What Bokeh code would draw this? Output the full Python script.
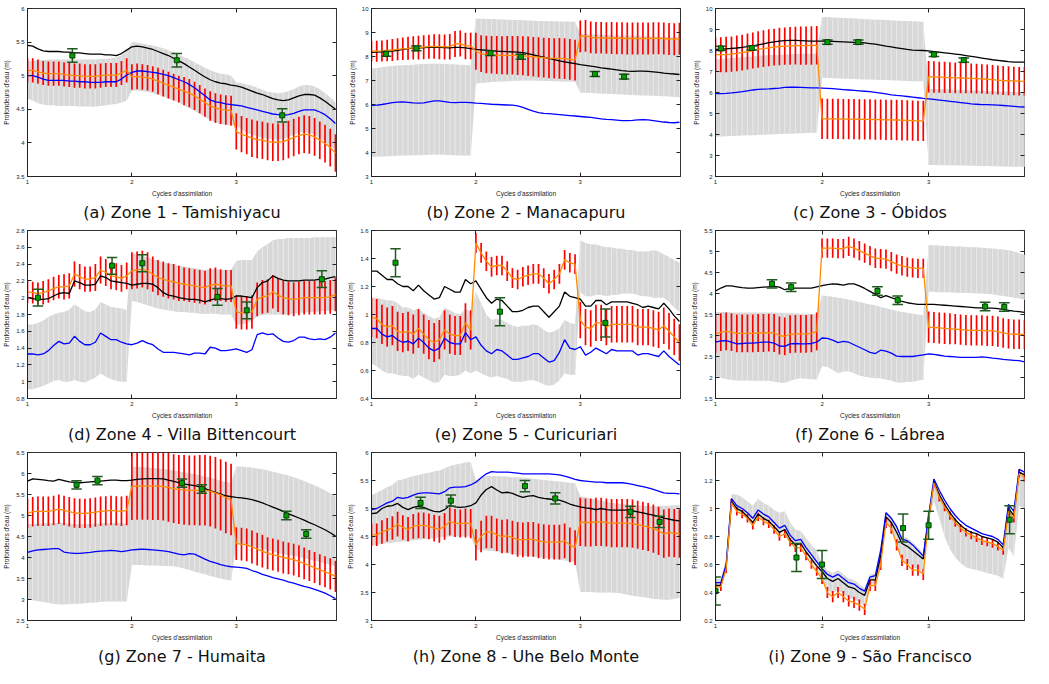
from bokeh.plotting import figure
from bokeh.layouts import gridplot
from bokeh.models import (ColumnDataSource, FixedTicker, CustomJSTickFormatter,
                          LinearAxis, Title, Range1d)
from bokeh.embed import file_html
from bokeh.resources import INLINE

# assimilation sample positions (20 per cycle, cycles 1..3)
CYCLE_X = [round(1 + 0.05 * i, 2) for i in range(60)]

CAPTIONS = ["(a) Zone 1 - Tamishiyacu", "(b) Zone 2 - Manacapuru", "(c) Zone 3 - Óbidos",
            "(d) Zone 4 - Villa Bittencourt", "(e) Zone 5 - Curicuriari", "(f) Zone 6 - Lábrea",
            "(g) Zone 7 - Humaita", "(h) Zone 8 - Uhe Belo Monte", "(i) Zone 9 - São Francisco"]
X_LABEL = "Cycles d'assimilation"
Y_LABEL = "Profondeurs d'eau (m)"
X_TICKS = [1, 2, 3]

# ---------------- Zone 1 ----------------
A_YLIM = (3.5, 6.0)
A_YTICKS = [3.5, 4, 4.5, 5, 5.5, 6]
A_GHI = [5.22,5.22,5.23,5.23,5.24,5.24,5.24,5.24,5.24,5.24,5.24,5.24,5.24,5.24,5.25,5.25,5.26,5.27,5.30,5.36,
         5.50,5.49,5.48,5.46,5.45,5.43,5.41,5.38,5.35,5.31,5.28,5.24,5.20,5.16,5.12,5.08,5.05,5.03,5.02,5.00,
         4.90,4.89,4.87,4.85,4.82,4.79,4.76,4.75,4.74,4.75,4.77,4.80,4.84,4.86,4.86,4.84,4.80,4.74,4.68,4.60]
A_GLO = [4.66,4.63,4.59,4.57,4.56,4.56,4.55,4.55,4.55,4.55,4.54,4.54,4.54,4.54,4.55,4.56,4.57,4.58,4.60,4.63,
         4.78,4.78,4.77,4.76,4.74,4.72,4.69,4.66,4.63,4.60,4.56,4.52,4.48,4.43,4.38,4.34,4.30,4.28,4.27,4.26,
         4.26,4.20,4.15,4.12,4.10,4.08,4.06,4.05,4.05,4.06,4.09,4.12,4.15,4.16,4.15,4.12,4.07,4.01,3.95,3.90]
A_OR = [5.08,5.08,5.06,5.04,5.03,5.03,5.03,5.02,5.01,5.00,5.00,4.99,4.99,4.99,5.00,5.01,5.01,5.01,5.04,5.08,
        4.98,4.99,4.98,4.97,4.95,4.92,4.89,4.86,4.83,4.80,4.77,4.74,4.70,4.65,4.60,4.55,4.52,4.50,4.49,4.48,
        4.17,4.13,4.10,4.07,4.05,4.04,4.02,4.01,4.01,4.02,4.05,4.08,4.11,4.13,4.12,4.09,4.04,3.99,3.93,3.85]
A_HW = [0.18,0.18,0.18,0.18,0.18,0.18,0.18,0.18,0.18,0.18,0.18,0.18,0.18,0.18,0.18,0.18,0.18,0.18,0.18,0.18,
        0.19,0.19,0.19,0.19,0.19,0.20,0.20,0.20,0.20,0.20,0.21,0.21,0.21,0.21,0.21,0.22,0.22,0.22,0.22,0.22,
        0.27,0.27,0.27,0.28,0.28,0.28,0.28,0.28,0.28,0.28,0.28,0.28,0.28,0.28,0.28,0.28,0.28,0.28,0.28,0.28]
A_BK = [5.45,5.44,5.40,5.37,5.36,5.36,5.36,5.35,5.35,5.34,5.34,5.33,5.32,5.32,5.32,5.31,5.31,5.30,5.33,5.38,
        5.43,5.44,5.43,5.41,5.39,5.36,5.33,5.30,5.26,5.22,5.18,5.13,5.08,5.03,4.98,4.94,4.91,4.89,4.88,4.86,
        4.85,4.83,4.80,4.77,4.74,4.72,4.69,4.66,4.64,4.63,4.64,4.67,4.70,4.72,4.72,4.71,4.67,4.62,4.56,4.50]
A_BL = [5.00,5.00,4.98,4.95,4.93,4.93,4.93,4.93,4.92,4.92,4.91,4.91,4.90,4.90,4.90,4.91,4.91,4.91,4.95,5.01,
        5.05,5.07,5.07,5.06,5.05,5.04,5.02,5.00,4.97,4.94,4.91,4.87,4.82,4.76,4.70,4.64,4.61,4.60,4.58,4.57,
        4.56,4.55,4.53,4.51,4.49,4.47,4.45,4.43,4.42,4.41,4.42,4.44,4.47,4.49,4.49,4.49,4.46,4.42,4.36,4.29]
A_OX = [1.43, 2.43, 3.44]
A_OY = [5.30, 5.23, 4.41]
A_OE = [0.10, 0.10, 0.10]

# ---------------- Zone 2 ----------------
B_YLIM = (3, 10)
B_YTICKS = [3, 4, 5, 6, 7, 8, 9, 10]
B_GHI = [7.50,7.52,7.55,7.58,7.60,7.62,7.64,7.65,7.66,7.68,7.69,7.70,7.70,7.70,7.69,7.68,7.67,7.66,7.65,7.64,
         9.57,9.57,9.56,9.56,9.55,9.54,9.53,9.52,9.52,9.51,9.50,9.49,9.48,9.48,9.47,9.47,9.46,9.46,9.45,9.45,
         8.95,8.94,8.93,8.92,8.91,8.90,8.89,8.88,8.87,8.86,8.85,8.85,8.84,8.84,8.83,8.82,8.82,8.81,8.80,8.80]
B_GLO = [3.81,3.82,3.83,3.84,3.85,3.86,3.87,3.88,3.89,3.89,3.90,3.91,3.92,3.92,3.91,3.90,3.89,3.88,3.88,3.88,
         6.88,6.90,6.92,6.94,6.95,6.96,6.97,6.98,6.99,7.00,7.00,7.00,6.99,6.98,6.98,6.97,6.96,6.96,6.95,6.95,
         6.50,6.49,6.48,6.47,6.46,6.45,6.44,6.43,6.42,6.41,6.40,6.39,6.38,6.37,6.36,6.35,6.34,6.33,6.31,6.30]
B_OR = [8.22,8.22,8.23,8.25,8.27,8.30,8.32,8.34,8.36,8.37,8.39,8.41,8.42,8.41,8.40,8.41,8.52,8.54,8.44,8.44,
        8.22,8.12,8.08,8.07,8.06,8.05,8.05,8.05,8.04,8.03,8.01,7.99,7.97,7.95,7.93,7.92,7.92,7.91,7.88,7.85,
        8.84,8.86,8.80,8.78,8.78,8.77,8.77,8.76,8.76,8.75,8.75,8.75,8.75,8.75,8.76,8.76,8.75,8.73,8.72,8.74]
B_HW = [0.43,0.44,0.44,0.45,0.46,0.46,0.47,0.48,0.48,0.49,0.50,0.50,0.51,0.52,0.52,0.53,0.54,0.54,0.55,0.55,
        0.77,0.77,0.78,0.78,0.79,0.79,0.80,0.80,0.81,0.81,0.82,0.82,0.83,0.83,0.84,0.84,0.85,0.85,0.85,0.85,
        0.66,0.66,0.66,0.66,0.66,0.66,0.67,0.67,0.67,0.67,0.67,0.67,0.67,0.67,0.67,0.67,0.67,0.67,0.67,0.67]
B_BK = [8.17,8.18,8.19,8.20,8.22,8.26,8.30,8.33,8.35,8.35,8.37,8.38,8.38,8.38,8.37,8.36,8.38,8.38,8.36,8.33,
        8.30,8.28,8.26,8.24,8.22,8.21,8.20,8.19,8.18,8.16,8.12,8.07,8.02,7.97,7.92,7.87,7.82,7.78,7.74,7.70,
        7.66,7.63,7.60,7.57,7.53,7.50,7.47,7.44,7.41,7.39,7.38,7.39,7.39,7.38,7.36,7.34,7.31,7.29,7.27,7.25]
B_BL = [5.96,5.97,6.00,6.04,6.08,6.10,6.11,6.09,6.07,6.06,6.07,6.11,6.15,6.15,6.12,6.09,6.08,6.09,6.09,6.08,
        6.06,6.05,6.03,6.01,6.00,5.99,5.98,5.97,5.94,5.88,5.80,5.72,5.66,5.63,5.62,5.60,5.58,5.56,5.54,5.52,
        5.50,5.48,5.46,5.43,5.40,5.38,5.37,5.35,5.33,5.33,5.34,5.36,5.37,5.36,5.33,5.30,5.27,5.25,5.24,5.26]
B_OX = [1.14, 1.43, 2.14, 2.43, 3.14, 3.42]
B_OY = [8.11, 8.34, 8.14, 7.99, 7.27, 7.16]
B_OE = [0.10, 0.10, 0.10, 0.10, 0.10, 0.10]

# ---------------- Zone 3 ----------------
C_YLIM = (2, 10)
C_YTICKS = [2, 3, 4, 5, 6, 7, 8, 9, 10]
C_GHI = [7.58,7.60,7.62,7.64,7.66,7.68,7.70,7.72,7.74,7.76,7.78,7.79,7.80,7.81,7.82,7.83,7.84,7.84,7.85,7.85,
         9.60,9.59,9.57,9.56,9.55,9.53,9.52,9.51,9.50,9.48,9.47,9.46,9.45,9.44,9.42,9.41,9.40,9.39,9.38,9.37,
         6.18,6.17,6.16,6.15,6.14,6.13,6.12,6.11,6.10,6.09,6.08,6.07,6.06,6.05,6.04,6.03,6.02,6.01,6.00,6.00]
C_GLO = [3.90,3.91,3.92,3.93,3.94,3.95,3.96,3.97,3.98,3.99,4.00,4.01,4.02,4.03,4.04,4.05,4.06,4.07,4.08,4.08,
         6.70,6.69,6.68,6.67,6.66,6.65,6.64,6.63,6.62,6.62,6.61,6.60,6.59,6.58,6.57,6.56,6.55,6.54,6.54,6.53,
         2.55,2.55,2.54,2.54,2.53,2.53,2.52,2.52,2.51,2.51,2.50,2.50,2.49,2.49,2.48,2.48,2.47,2.47,2.46,2.46]
C_OR = [7.80,7.80,7.81,7.83,7.86,7.90,7.95,8.00,8.05,8.09,8.13,8.16,8.19,8.21,8.22,8.23,8.23,8.23,8.24,8.25,
        4.75,4.74,4.74,4.74,4.73,4.73,4.73,4.72,4.72,4.72,4.71,4.71,4.70,4.70,4.69,4.68,4.67,4.66,4.65,4.65,
        6.75,6.74,6.73,6.72,6.71,6.70,6.69,6.68,6.67,6.66,6.65,6.63,6.61,6.59,6.57,6.56,6.55,6.54,6.53,6.53]
C_HW = [0.83,0.83,0.84,0.84,0.85,0.85,0.86,0.86,0.87,0.87,0.88,0.88,0.89,0.89,0.90,0.90,0.91,0.91,0.92,0.92,
        0.96,0.96,0.96,0.96,0.96,0.96,0.96,0.96,0.96,0.96,0.96,0.96,0.96,0.96,0.96,0.96,0.96,0.96,0.96,0.96,
        0.75,0.75,0.74,0.74,0.73,0.73,0.72,0.72,0.71,0.71,0.70,0.70,0.70,0.69,0.69,0.69,0.68,0.68,0.68,0.68]
C_BK = [8.05,8.06,8.08,8.10,8.12,8.15,8.18,8.22,8.27,8.32,8.37,8.41,8.45,8.47,8.48,8.48,8.47,8.46,8.45,8.45,
        8.45,8.44,8.43,8.42,8.41,8.40,8.39,8.38,8.36,8.33,8.30,8.26,8.21,8.17,8.13,8.09,8.05,8.02,8.01,8.00,
        7.98,7.95,7.92,7.89,7.86,7.83,7.80,7.76,7.72,7.68,7.64,7.60,7.56,7.53,7.50,7.47,7.45,7.45,7.45,7.45]
C_BL = [5.95,5.95,5.96,5.98,6.01,6.04,6.08,6.12,6.15,6.16,6.17,6.19,6.21,6.24,6.26,6.25,6.24,6.23,6.22,6.22,
        6.21,6.20,6.18,6.16,6.14,6.12,6.10,6.08,6.06,6.04,6.01,5.97,5.93,5.89,5.86,5.84,5.81,5.78,5.75,5.72,
        5.70,5.67,5.64,5.61,5.58,5.55,5.52,5.49,5.46,5.44,5.42,5.42,5.41,5.40,5.38,5.36,5.34,5.32,5.31,5.31]
C_OX = [1.05, 1.34, 2.05, 2.34, 3.05, 3.33]
C_OY = [8.10, 8.12, 8.40, 8.40, 7.81, 7.54]
C_OE = [0.10, 0.10, 0.10, 0.10, 0.10, 0.10]

# ---------------- Zone 4 ----------------
D_YLIM = (0.8, 2.8)
D_YTICKS = [0.8, 1.0, 1.2, 1.4, 1.6, 1.8, 2.0, 2.2, 2.4, 2.6, 2.8]
D_GHI = [1.68,1.68,1.70,1.73,1.77,1.80,1.82,1.83,1.86,1.92,1.88,1.84,1.83,1.86,1.95,1.92,1.89,1.88,1.87,1.85,
         2.53,2.52,2.50,2.48,2.46,2.44,2.42,2.41,2.40,2.38,2.37,2.36,2.35,2.34,2.33,2.34,2.34,2.33,2.33,2.33,
         2.44,2.45,2.45,2.45,2.55,2.60,2.64,2.68,2.70,2.70,2.71,2.71,2.71,2.71,2.71,2.72,2.72,2.72,2.72,2.72]
D_GLO = [0.91,0.91,0.93,0.95,0.98,1.01,1.02,1.00,1.00,1.02,1.00,0.99,1.02,1.05,1.10,1.06,1.03,1.01,1.00,1.00,
         1.96,1.95,1.93,1.91,1.89,1.87,1.86,1.85,1.84,1.83,1.83,1.82,1.82,1.81,1.81,1.81,1.81,1.80,1.80,1.80,
         1.68,1.68,1.70,1.72,1.78,1.79,1.80,1.80,1.80,1.80,1.80,1.81,1.82,1.82,1.83,1.83,1.84,1.84,1.85,1.85]
D_OR = [2.07,2.06,2.05,2.06,2.08,2.11,2.13,2.13,2.14,2.28,2.25,2.22,2.22,2.24,2.33,2.30,2.26,2.25,2.23,2.26,
        2.32,2.33,2.34,2.32,2.28,2.24,2.22,2.20,2.19,2.17,2.16,2.15,2.14,2.13,2.12,2.15,2.16,2.15,2.14,2.14,
        1.83,1.82,1.82,1.83,1.98,2.01,2.02,2.07,2.03,2.00,1.99,1.98,1.99,2.00,2.00,2.00,2.00,2.00,2.01,2.04]
D_HW = [0.13,0.13,0.13,0.14,0.14,0.14,0.14,0.15,0.15,0.15,0.15,0.15,0.15,0.16,0.16,0.16,0.16,0.16,0.16,0.16,
        0.22,0.22,0.22,0.22,0.21,0.21,0.21,0.21,0.21,0.21,0.20,0.20,0.20,0.20,0.20,0.20,0.20,0.19,0.19,0.19,
        0.20,0.20,0.20,0.20,0.20,0.20,0.20,0.20,0.20,0.20,0.20,0.20,0.20,0.20,0.20,0.20,0.20,0.20,0.20,0.20]
D_BK = [2.00,1.99,1.98,1.98,1.99,2.02,2.05,2.06,2.05,2.20,2.18,2.15,2.15,2.16,2.26,2.24,2.20,2.19,2.18,2.17,
        2.15,2.16,2.17,2.17,2.16,2.12,2.06,2.03,2.02,2.00,1.99,1.98,1.98,1.97,1.95,1.97,1.99,1.99,1.98,1.99,
        2.02,2.02,2.01,2.00,2.12,2.18,2.20,2.26,2.23,2.21,2.20,2.20,2.20,2.21,2.21,2.21,2.22,2.22,2.24,2.25]
D_BL = [1.33,1.33,1.32,1.33,1.37,1.43,1.48,1.45,1.46,1.54,1.48,1.44,1.44,1.47,1.58,1.54,1.50,1.50,1.47,1.45,
        1.44,1.46,1.49,1.46,1.44,1.39,1.35,1.35,1.35,1.34,1.33,1.32,1.34,1.34,1.33,1.41,1.40,1.37,1.37,1.38,
        1.39,1.37,1.35,1.38,1.56,1.58,1.56,1.57,1.52,1.48,1.47,1.49,1.53,1.53,1.51,1.50,1.51,1.50,1.53,1.58]
D_OX = [1.10, 1.81, 2.10, 2.82, 3.10, 3.82]
D_OY = [2.00, 2.38, 2.41, 2.01, 1.85, 2.22]
D_OE = [0.10, 0.10, 0.10, 0.10, 0.10, 0.10]

# ---------------- Zone 5 ----------------
E_YLIM = (0.4, 1.6)
E_YTICKS = [0.4, 0.6, 0.8, 1.0, 1.2, 1.4, 1.6]
E_GHI = [1.12,1.12,1.11,1.10,1.10,1.08,1.05,1.05,1.03,1.04,1.01,0.99,0.97,0.98,1.05,1.03,1.01,1.00,1.04,1.02,
         1.16,1.08,1.00,0.96,0.97,0.96,0.94,0.92,0.91,0.92,0.92,0.93,0.92,0.89,0.87,0.88,0.90,0.96,0.94,0.93,
         1.53,1.51,1.50,1.50,1.49,1.48,1.48,1.47,1.47,1.46,1.46,1.45,1.45,1.45,1.46,1.45,1.43,1.41,1.39,1.37]
E_GLO = [0.65,0.63,0.60,0.58,0.58,0.57,0.56,0.56,0.54,0.57,0.55,0.53,0.51,0.52,0.57,0.56,0.56,0.57,0.60,0.58,
         0.60,0.58,0.56,0.55,0.56,0.55,0.54,0.52,0.52,0.52,0.53,0.53,0.52,0.50,0.49,0.50,0.53,0.58,0.57,0.57,
         1.16,1.13,1.13,1.14,1.14,1.13,1.14,1.14,1.15,1.15,1.15,1.14,1.13,1.13,1.12,1.12,1.12,1.09,1.05,1.02]
E_OR = [0.98,0.97,0.93,0.91,0.92,0.88,0.87,0.88,0.86,0.90,0.86,0.82,0.80,0.82,0.89,0.86,0.85,0.85,0.94,0.89,
        1.51,1.44,1.38,1.34,1.35,1.35,1.31,1.26,1.25,1.27,1.28,1.29,1.29,1.26,1.22,1.25,1.29,1.39,1.37,1.36,
        0.96,0.91,0.90,0.94,0.94,0.91,0.93,0.93,0.93,0.93,0.93,0.91,0.91,0.91,0.90,0.89,0.92,0.88,0.84,0.80]
E_HW = [0.14,0.14,0.14,0.14,0.14,0.14,0.14,0.14,0.14,0.14,0.14,0.14,0.14,0.14,0.14,0.14,0.14,0.14,0.14,0.14,
        0.07,0.07,0.07,0.07,0.07,0.07,0.07,0.07,0.07,0.07,0.07,0.07,0.07,0.07,0.07,0.07,0.07,0.07,0.07,0.07,
        0.13,0.13,0.13,0.13,0.13,0.13,0.13,0.13,0.13,0.13,0.13,0.13,0.13,0.13,0.13,0.13,0.13,0.13,0.13,0.13]
E_BK = [1.31,1.31,1.28,1.25,1.25,1.22,1.20,1.20,1.17,1.21,1.17,1.14,1.11,1.12,1.20,1.18,1.16,1.16,1.25,1.22,
        1.24,1.18,1.12,1.08,1.11,1.10,1.06,1.02,1.02,1.03,1.05,1.06,1.06,1.02,0.98,1.02,1.06,1.16,1.13,1.12,
        1.11,1.06,1.06,1.10,1.10,1.07,1.09,1.09,1.09,1.09,1.08,1.07,1.05,1.06,1.05,1.04,1.08,1.04,0.99,0.95]
E_BL = [0.90,0.90,0.86,0.84,0.85,0.82,0.80,0.81,0.79,0.83,0.80,0.76,0.74,0.76,0.83,0.80,0.79,0.79,0.87,0.82,
        0.84,0.78,0.74,0.72,0.75,0.74,0.71,0.68,0.68,0.69,0.70,0.72,0.72,0.69,0.66,0.67,0.73,0.82,0.76,0.75,
        0.77,0.71,0.73,0.76,0.74,0.72,0.75,0.74,0.74,0.74,0.74,0.71,0.72,0.72,0.71,0.70,0.74,0.70,0.67,0.64]
E_OX = [1.23, 2.23, 3.24]
E_OY = [1.37, 1.02, 0.94]
E_OE = [0.10, 0.10, 0.10]

# ---------------- Zone 6 ----------------
F_YLIM = (1.5, 5.5)
F_YTICKS = [1.5, 2, 2.5, 3, 3.5, 4, 4.5, 5, 5.5]
F_GHI = [3.56,3.56,3.56,3.55,3.55,3.55,3.55,3.55,3.55,3.55,3.55,3.55,3.54,3.53,3.53,3.53,3.52,3.52,3.51,3.50,
         3.95,3.94,3.92,3.90,3.88,3.85,3.83,3.80,3.77,3.74,3.72,3.68,3.65,3.62,3.59,3.56,3.54,3.52,3.50,3.48,
         5.15,5.15,5.14,5.13,5.13,5.12,5.12,5.11,5.10,5.10,5.09,5.08,5.07,5.06,5.05,5.03,5.00,4.96,4.92,4.88]
F_GLO = [2.03,2.00,1.96,1.94,1.93,1.93,1.93,1.92,1.92,1.92,1.92,1.90,1.88,1.87,1.92,1.96,1.98,1.97,1.96,1.95,
         2.27,2.25,2.18,2.10,2.14,2.15,2.10,2.05,2.02,2.00,1.98,1.98,1.95,1.92,1.88,1.88,1.89,1.90,1.92,1.95,
         4.04,4.04,4.03,4.03,4.03,4.02,4.02,4.01,4.01,4.00,4.00,3.99,3.98,3.96,3.94,3.92,3.90,3.88,3.85,3.82]
F_OR = [3.03,3.08,3.10,3.08,3.05,3.05,3.05,3.05,3.06,3.06,3.07,3.06,3.00,2.98,3.03,3.04,3.04,3.04,3.05,3.10,
        5.08,5.08,5.08,5.07,5.07,5.12,5.08,5.02,4.96,4.90,4.84,4.83,4.82,4.76,4.70,4.66,4.63,4.61,4.60,4.60,
        3.20,3.19,3.18,3.17,3.16,3.15,3.14,3.13,3.12,3.12,3.12,3.11,3.11,3.09,3.06,3.04,3.03,3.03,3.02,2.97]
F_HW = [0.45,0.45,0.45,0.45,0.45,0.45,0.45,0.45,0.45,0.45,0.45,0.45,0.45,0.45,0.45,0.45,0.45,0.45,0.45,0.45,
        0.23,0.23,0.23,0.23,0.23,0.23,0.23,0.23,0.23,0.23,0.23,0.23,0.23,0.23,0.23,0.23,0.23,0.23,0.23,0.23,
        0.37,0.37,0.37,0.37,0.37,0.36,0.36,0.36,0.36,0.36,0.36,0.36,0.36,0.36,0.35,0.35,0.35,0.35,0.35,0.35]
F_BK = [4.06,4.13,4.18,4.18,4.16,4.14,4.13,4.13,4.14,4.15,4.16,4.17,4.15,4.09,4.12,4.13,4.13,4.13,4.13,4.16,
        4.19,4.21,4.23,4.22,4.20,4.23,4.23,4.18,4.12,4.05,3.98,3.90,3.95,3.90,3.86,3.81,3.78,3.76,3.74,3.74,
        3.74,3.74,3.73,3.72,3.71,3.70,3.69,3.68,3.67,3.66,3.66,3.65,3.65,3.64,3.62,3.60,3.58,3.57,3.55,3.52]
F_BL = [2.84,2.87,2.88,2.84,2.80,2.81,2.82,2.82,2.83,2.84,2.84,2.82,2.75,2.74,2.80,2.81,2.80,2.80,2.81,2.84,
        2.94,2.93,2.89,2.83,2.86,2.84,2.78,2.72,2.66,2.60,2.57,2.65,2.63,2.58,2.51,2.50,2.50,2.50,2.52,2.54,
        2.56,2.55,2.53,2.51,2.50,2.49,2.48,2.48,2.48,2.48,2.49,2.48,2.46,2.45,2.43,2.42,2.41,2.40,2.37,2.33]
F_OX = [1.53, 1.71, 2.52, 2.71, 3.53, 3.71]
F_OY = [4.23, 4.15, 4.06, 3.84, 3.69, 3.68]
F_OE = [0.10, 0.10, 0.10, 0.10, 0.10, 0.10]

# ---------------- Zone 7 ----------------
G_YLIM = (2.5, 6.5)
G_YTICKS = [2.5, 3, 3.5, 4, 4.5, 5, 5.5, 6, 6.5]
G_GHI = [4.80,4.80,4.81,4.81,4.82,4.82,4.83,4.82,4.81,4.80,4.80,4.80,4.80,4.81,4.81,4.82,4.82,4.82,4.81,4.81,
         6.17,6.16,6.15,6.14,6.13,6.12,6.11,6.09,6.07,6.05,6.03,6.01,5.99,5.96,5.93,5.90,5.87,5.83,5.80,5.78,
         6.17,6.16,6.15,6.14,6.12,6.10,6.07,6.04,6.01,5.98,5.95,5.91,5.87,5.82,5.77,5.72,5.66,5.60,5.53,5.46]
G_GLO = [3.01,2.98,2.96,2.94,2.92,2.90,2.88,2.88,2.89,2.90,2.90,2.91,2.92,2.93,2.94,2.95,2.95,2.95,2.95,2.95,
         3.82,3.82,3.82,3.81,3.81,3.81,3.80,3.80,3.79,3.77,3.74,3.70,3.66,3.63,3.60,3.56,3.53,3.50,3.47,3.45,
         4.32,4.31,4.29,4.26,4.23,4.20,4.17,4.14,4.11,4.08,4.06,4.04,4.01,3.98,3.95,3.92,3.89,3.86,3.83,3.80]
G_OR = [5.05,5.09,5.10,5.10,5.10,5.12,5.15,5.12,5.09,5.06,5.05,5.05,5.06,5.08,5.10,5.11,5.12,5.11,5.10,5.12,
        5.69,5.70,5.70,5.70,5.70,5.70,5.69,5.67,5.64,5.62,5.61,5.60,5.60,5.60,5.60,5.58,5.54,5.49,5.43,5.38,
        4.33,4.32,4.30,4.25,4.20,4.15,4.10,4.07,4.04,4.00,3.98,3.95,3.91,3.86,3.81,3.76,3.71,3.66,3.61,3.55]
G_HW = [0.35,0.35,0.35,0.35,0.35,0.35,0.35,0.35,0.35,0.35,0.35,0.35,0.35,0.35,0.35,0.35,0.35,0.35,0.35,0.35,
        0.80,0.80,0.80,0.80,0.81,0.81,0.81,0.82,0.82,0.82,0.83,0.83,0.83,0.84,0.84,0.84,0.85,0.85,0.85,0.85,
        0.39,0.39,0.39,0.39,0.39,0.39,0.38,0.38,0.38,0.38,0.38,0.38,0.38,0.38,0.37,0.37,0.37,0.37,0.37,0.37]
G_BK = [5.82,5.87,5.86,5.85,5.83,5.82,5.86,5.83,5.80,5.79,5.78,5.79,5.80,5.81,5.82,5.83,5.84,5.84,5.83,5.83,
        5.84,5.86,5.87,5.88,5.88,5.88,5.87,5.84,5.81,5.78,5.75,5.73,5.71,5.68,5.64,5.59,5.55,5.51,5.47,5.45,
        5.43,5.42,5.40,5.38,5.34,5.30,5.25,5.20,5.15,5.10,5.04,4.99,4.94,4.89,4.83,4.78,4.72,4.66,4.59,4.51]
G_BL = [4.12,4.16,4.18,4.19,4.20,4.21,4.21,4.13,4.11,4.10,4.10,4.11,4.12,4.14,4.15,4.16,4.17,4.16,4.14,4.16,
        4.18,4.19,4.20,4.19,4.18,4.17,4.16,4.14,4.11,4.08,4.06,4.09,4.08,4.02,3.96,3.91,3.87,3.83,3.80,3.78,
        3.77,3.76,3.74,3.69,3.65,3.60,3.56,3.52,3.49,3.46,3.42,3.39,3.35,3.31,3.28,3.24,3.20,3.15,3.09,3.02]
G_OX = [1.47, 1.67, 2.48, 2.67, 3.48, 3.67]
G_OY = [5.73, 5.83, 5.77, 5.63, 5.00, 4.56]
G_OE = [0.10, 0.10, 0.10, 0.10, 0.10, 0.10]

# ---------------- Zone 8 ----------------
H_YLIM = (3, 6)
H_YTICKS = [3, 3.5, 4, 4.5, 5, 5.5, 6]
H_GHI = [5.24,5.28,5.33,5.38,5.42,5.50,5.52,5.55,5.58,5.60,5.62,5.64,5.66,5.68,5.72,5.76,5.78,5.80,5.82,5.83,
         5.50,5.55,5.58,5.58,5.58,5.57,5.57,5.56,5.56,5.55,5.54,5.53,5.52,5.51,5.50,5.49,5.48,5.47,5.46,5.45,
         5.22,5.20,5.18,5.16,5.14,5.12,5.10,5.09,5.08,5.07,5.06,5.05,5.05,5.04,5.04,5.04,5.05,5.05,5.06,5.06]
H_GLO = [4.34,4.35,4.37,4.38,4.39,4.40,4.41,4.42,4.43,4.44,4.45,4.46,4.47,4.48,4.49,4.50,4.50,4.50,4.50,4.50,
         4.27,4.26,4.25,4.24,4.23,4.22,4.20,4.19,4.17,4.16,4.15,4.14,4.13,4.12,4.11,4.10,4.09,4.07,4.06,4.05,
         3.51,3.51,3.51,3.50,3.50,3.50,3.50,3.49,3.48,3.46,3.44,3.43,3.42,3.40,3.39,3.38,3.37,3.37,3.39,3.40]
H_OR = [4.53,4.53,4.58,4.62,4.65,4.72,4.66,4.63,4.68,4.70,4.70,4.68,4.65,4.63,4.68,4.77,4.74,4.73,4.74,4.73,
        4.35,4.50,4.58,4.58,4.53,4.50,4.51,4.48,4.45,4.44,4.45,4.45,4.42,4.41,4.40,4.40,4.40,4.42,4.35,4.30,
        4.76,4.75,4.75,4.76,4.76,4.75,4.74,4.74,4.74,4.74,4.73,4.71,4.69,4.67,4.64,4.60,4.55,4.57,4.56,4.55]
H_HW = [0.20,0.20,0.21,0.21,0.21,0.22,0.22,0.22,0.22,0.23,0.23,0.23,0.24,0.24,0.24,0.25,0.25,0.25,0.26,0.26,
        0.28,0.28,0.29,0.29,0.29,0.30,0.30,0.30,0.31,0.31,0.31,0.31,0.31,0.31,0.31,0.31,0.31,0.31,0.31,0.31,
        0.43,0.43,0.43,0.43,0.43,0.43,0.43,0.43,0.43,0.43,0.43,0.43,0.43,0.43,0.43,0.43,0.43,0.43,0.43,0.43]
H_BK = [4.91,4.92,5.00,5.04,5.05,5.09,5.02,4.98,5.02,5.04,5.02,4.98,4.95,4.94,4.98,5.06,5.03,5.02,5.03,5.05,
        5.10,5.24,5.34,5.39,5.33,5.28,5.29,5.27,5.23,5.20,5.22,5.23,5.20,5.18,5.17,5.16,5.15,5.12,5.08,5.05,
        5.03,5.01,5.00,4.98,5.00,4.98,4.97,4.97,4.97,4.97,4.96,4.94,4.92,4.90,4.88,4.86,4.83,4.81,4.79,4.78]
H_BL = [4.98,5.00,5.05,5.10,5.13,5.20,5.18,5.20,5.24,5.27,5.28,5.28,5.27,5.26,5.30,5.37,5.38,5.38,5.39,5.42,
        5.47,5.55,5.62,5.66,5.65,5.65,5.65,5.64,5.63,5.62,5.62,5.62,5.62,5.62,5.62,5.61,5.60,5.58,5.55,5.52,
        5.50,5.49,5.48,5.47,5.47,5.46,5.46,5.46,5.46,5.45,5.43,5.41,5.39,5.37,5.34,5.31,5.28,5.27,5.27,5.26]
H_OX = [1.47, 1.76, 2.47, 2.76, 3.48, 3.76]
H_OY = [5.10, 5.14, 5.40, 5.18, 4.94, 4.76]
H_OE = [0.10, 0.10, 0.10, 0.10, 0.10, 0.10]

# ---------------- Zone 9 ----------------
I_YLIM = (0.2, 1.4)
I_YTICKS = [0.2, 0.4, 0.6, 0.8, 1.0, 1.2, 1.4]
I_GHI = [0.49,0.50,0.64,1.10,1.10,1.08,1.05,1.02,1.07,1.04,1.02,0.99,0.97,0.98,0.90,0.85,0.84,0.79,0.74,0.70,
         0.60,0.56,0.54,0.56,0.53,0.50,0.49,0.46,0.43,0.53,0.54,0.72,0.98,0.94,0.88,0.80,0.79,0.76,0.72,0.68,
         0.93,1.19,1.09,1.02,0.96,0.91,0.87,0.84,0.82,0.80,0.78,0.77,0.76,0.74,0.71,0.97,0.92,1.24,1.22,1.20]
I_GLO = [0.44,0.44,0.57,1.04,0.99,0.97,0.93,0.89,0.95,0.92,0.90,0.86,0.82,0.84,0.77,0.73,0.74,0.68,0.62,0.57,
         0.50,0.42,0.39,0.42,0.39,0.36,0.35,0.33,0.30,0.46,0.46,0.61,0.90,0.86,0.75,0.64,0.61,0.58,0.57,0.54,
         0.92,1.05,0.93,0.80,0.71,0.65,0.61,0.58,0.57,0.56,0.55,0.54,0.53,0.52,0.50,0.72,0.66,1.02,1.00,0.98]
I_OR = [0.44,0.44,0.57,1.04,0.98,0.96,0.93,0.88,0.94,0.91,0.89,0.85,0.80,0.82,0.76,0.72,0.72,0.66,0.60,0.55,
        0.50,0.40,0.37,0.40,0.37,0.34,0.33,0.31,0.28,0.45,0.45,0.60,0.90,0.86,0.74,0.63,0.60,0.56,0.56,0.53,
        0.92,1.18,1.08,1.01,0.95,0.90,0.86,0.83,0.81,0.79,0.77,0.76,0.75,0.73,0.70,0.98,0.93,1.25,1.22,1.20]
I_HW = [0.03,0.03,0.03,0.03,0.03,0.03,0.03,0.03,0.03,0.03,0.03,0.03,0.03,0.03,0.03,0.03,0.03,0.03,0.03,0.03,
        0.04,0.04,0.04,0.04,0.04,0.04,0.04,0.04,0.04,0.04,0.04,0.04,0.04,0.04,0.04,0.04,0.04,0.04,0.04,0.04,
        0.03,0.03,0.03,0.03,0.03,0.03,0.03,0.03,0.03,0.03,0.03,0.03,0.03,0.03,0.03,0.03,0.03,0.03,0.03,0.03]
I_BK = [0.45,0.45,0.58,1.05,1.00,0.98,0.94,0.90,0.96,0.93,0.91,0.87,0.83,0.85,0.78,0.74,0.75,0.69,0.64,0.59,
        0.55,0.50,0.48,0.50,0.47,0.44,0.43,0.40,0.38,0.49,0.49,0.66,0.94,0.90,0.83,0.75,0.73,0.70,0.67,0.64,
        0.93,1.19,1.10,1.03,0.97,0.92,0.88,0.85,0.83,0.82,0.80,0.79,0.78,0.76,0.72,1.00,0.95,1.26,1.24,1.22]
I_BL = [0.47,0.47,0.60,1.07,1.02,1.00,0.97,0.93,0.99,0.96,0.94,0.90,0.86,0.88,0.81,0.77,0.78,0.72,0.67,0.62,
        0.57,0.53,0.51,0.53,0.50,0.47,0.46,0.43,0.41,0.51,0.52,0.70,0.97,0.93,0.87,0.78,0.77,0.74,0.70,0.66,
        0.95,1.21,1.13,1.06,1.00,0.95,0.91,0.88,0.86,0.84,0.82,0.81,0.80,0.78,0.74,1.03,0.98,1.28,1.26,1.24]
I_OX = [1.00, 1.76, 2.00, 2.76, 3.00, 3.76]
I_OY = [0.41, 0.65, 0.60, 0.86, 0.88, 0.92]
I_OE = [0.10, 0.10, 0.10, 0.10, 0.10, 0.10]

PANELS = [
    (A_YLIM, A_YTICKS, A_GLO, A_GHI, A_OR, A_HW, A_BK, A_BL, A_OX, A_OY, A_OE),
    (B_YLIM, B_YTICKS, B_GLO, B_GHI, B_OR, B_HW, B_BK, B_BL, B_OX, B_OY, B_OE),
    (C_YLIM, C_YTICKS, C_GLO, C_GHI, C_OR, C_HW, C_BK, C_BL, C_OX, C_OY, C_OE),
    (D_YLIM, D_YTICKS, D_GLO, D_GHI, D_OR, D_HW, D_BK, D_BL, D_OX, D_OY, D_OE),
    (E_YLIM, E_YTICKS, E_GLO, E_GHI, E_OR, E_HW, E_BK, E_BL, E_OX, E_OY, E_OE),
    (F_YLIM, F_YTICKS, F_GLO, F_GHI, F_OR, F_HW, F_BK, F_BL, F_OX, F_OY, F_OE),
    (G_YLIM, G_YTICKS, G_GLO, G_GHI, G_OR, G_HW, G_BK, G_BL, G_OX, G_OY, G_OE),
    (H_YLIM, H_YTICKS, H_GLO, H_GHI, H_OR, H_HW, H_BK, H_BL, H_OX, H_OY, H_OE),
    (I_YLIM, I_YTICKS, I_GLO, I_GHI, I_OR, I_HW, I_BK, I_BL, I_OX, I_OY, I_OE),
]

FMT_CODE = "var s = tick.toFixed(2); s = s.replace(/0+$/, ''); s = s.replace(/\\.$/, ''); return s;"
TICK_FONT = "Liberation Sans"
CAP_HALF = 0.05


def style_axis(ax):
    ax.major_tick_in = 4
    ax.major_tick_out = 0
    ax.minor_tick_line_color = None
    ax.axis_line_color = "#222222"
    ax.major_tick_line_color = "#222222"
    ax.major_label_text_font = TICK_FONT
    ax.major_label_text_font_size = "6px"
    ax.major_label_text_color = "#222222"
    ax.major_label_standoff = 3
    ax.axis_label_text_font = TICK_FONT
    ax.axis_label_text_font_size = "6.5px"
    ax.axis_label_text_font_style = "normal"
    ax.axis_label_text_color = "#222222"
    ax.axis_label_standoff = 3


def build(idx, cfg):
    ylim, yticks, glo, ghi, orange, hw, black, blue, ox, oy, oe = cfg
    for arr in (glo, ghi, orange, hw, black, blue):
        if len(arr) != len(CYCLE_X):
            raise ValueError("panel %d: length %d" % (idx, len(arr)))
    xend = 3.9 if idx % 3 == 2 else 3.96
    p = figure(width=344, height=222, x_range=Range1d(1, xend), y_range=Range1d(*ylim),
               output_backend="svg", toolbar_location=None, title=None,
               min_border_left=24, min_border_right=8, min_border_top=8, min_border_bottom=0,
               x_axis_label=X_LABEL, y_axis_label=Y_LABEL)
    p.grid.visible = False
    p.outline_line_color = "#333333"
    p.outline_line_width = 1
    p.background_fill_color = "white"
    p.border_fill_color = "white"

    p.xaxis.ticker = FixedTicker(ticks=X_TICKS)
    p.yaxis.ticker = FixedTicker(ticks=yticks)
    p.xaxis.formatter = CustomJSTickFormatter(code=FMT_CODE)
    p.yaxis.formatter = CustomJSTickFormatter(code=FMT_CODE)
    style_axis(p.xaxis[0])
    style_axis(p.yaxis[0])
    for loc, tk in (("right", yticks), ("above", X_TICKS)):
        ax = LinearAxis(ticker=FixedTicker(ticks=tk),
                        formatter=CustomJSTickFormatter(code="return '';"),
                        major_label_text_font_size="0px", major_label_standoff=0,
                        major_tick_in=4, major_tick_out=0, minor_tick_line_color=None,
                        axis_line_color=None, major_tick_line_color="#222222")
        p.add_layout(ax, loc)

    src = ColumnDataSource(dict(
        x=CYCLE_X, lo=glo, hi=ghi, om=orange,
        rlo=[o - h for o, h in zip(orange, hw)], rhi=[o + h for o, h in zip(orange, hw)],
        bk=black, bl=blue))
    p.varea(x="x", y1="lo", y2="hi", source=src, fill_color="#d8d8d8")
    p.segment(x0="x", y0="lo", x1="x", y1="hi", source=src, line_color="#e9e9e9", line_width=1)
    p.segment(x0="x", y0="rlo", x1="x", y1="rhi", source=src, line_color="#ff0000", line_width=1.7)
    p.line(x="x", y="bk", source=src, line_color="#000000", line_width=1.3)
    p.line(x="x", y="bl", source=src, line_color="#0000ff", line_width=1.3)
    p.line(x="x", y="om", source=src, line_color="#ff8c00", line_width=1.3)

    obs = ColumnDataSource(dict(
        x=ox, y=oy,
        lo=[y - e for y, e in zip(oy, oe)], hi=[y + e for y, e in zip(oy, oe)],
        cl=[x - CAP_HALF for x in ox], cr=[x + CAP_HALF for x in ox]))
    ecol = "#1f5a1f"
    p.segment(x0="x", y0="lo", x1="x", y1="hi", source=obs, line_color=ecol, line_width=1.5)
    p.segment(x0="cl", y0="lo", x1="cr", y1="lo", source=obs, line_color=ecol, line_width=1.5)
    p.segment(x0="cl", y0="hi", x1="cr", y1="hi", source=obs, line_color=ecol, line_width=1.5)
    p.scatter(x="x", y="y", source=obs, marker="square", size=5,
              fill_color="#00a000", line_color="#0b3b0b", line_width=1)

    p.add_layout(Title(text=CAPTIONS[idx], align="center", text_font="DejaVu Sans",
                       text_font_size="16px", text_font_style="normal", text_color="#111111",
                       offset=-10, standoff=2), "below")
    return p


figs = [build(i, cfg) for i, cfg in enumerate(PANELS)]
grid = gridplot([figs[0:3], figs[3:6], figs[6:9]], toolbar_location=None)

open("out.html", "w").write(file_html(grid, INLINE))
